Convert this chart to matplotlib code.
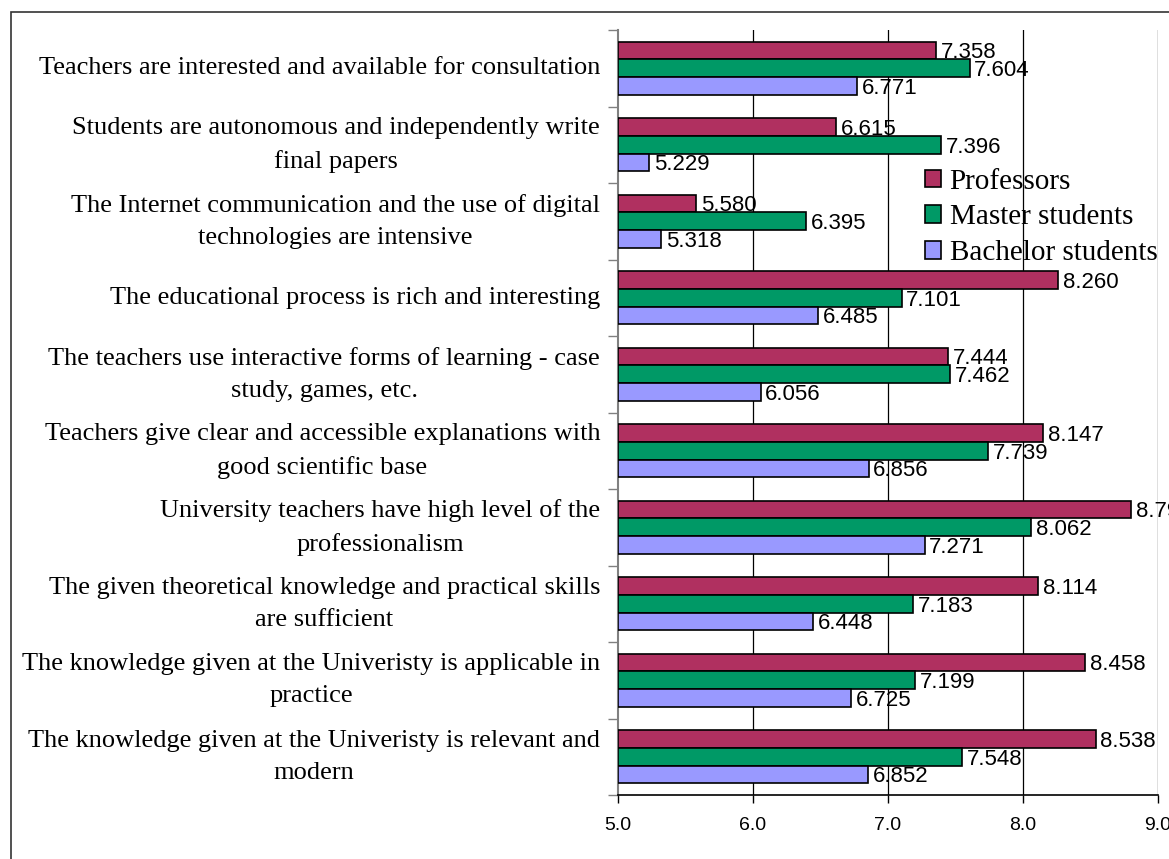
import numpy as np
import matplotlib.pyplot as plt
from matplotlib.patches import Rectangle

categories = [
    "Teachers are interested and available for consultation",
    "Students are autonomous and independently write\nfinal papers",
    "The Internet communication and the use of digital\ntechnologies are intensive",
    "The educational process is rich and interesting",
    "The teachers use interactive forms of learning - case\nstudy, games, etc.",
    "Teachers give clear and accessible explanations with\ngood scientific base",
    "University teachers have high level of the\nprofessionalism",
    "The given theoretical knowledge and practical skills\nare sufficient",
    "The knowledge given at the Univeristy is applicable in\npractice",
    "The knowledge given at the Univeristy is relevant and\nmodern",
]
professors = [7.358, 6.615, 5.580, 8.260, 7.444, 8.147, 8.799, 8.114, 8.458, 8.538]
masters = [7.604, 7.396, 6.395, 7.101, 7.462, 7.739, 8.062, 7.183, 7.199, 7.548]
bachelors = [6.771, 5.229, 5.318, 6.485, 6.056, 6.856, 7.271, 6.448, 6.725, 6.852]
series_names = ["Professors", "Master students", "Bachelor students"]
colors = ["#B03060", "#009966", "#9999FF"]
xticks = [5.0, 6.0, 7.0, 8.0, 9.0]

fig = plt.figure(figsize=(11.69, 8.59), dpi=100)
ax = fig.add_axes([618 / 1169, 1 - 795 / 859, 540 / 1169, 765 / 859])

# рамка вокруг всей картинки
fig.patches.append(Rectangle((11 / 1169, -0.1), 1.2, 1 - 12 / 859 + 0.1,
                             transform=fig.transFigure, fill=False,
                             edgecolor="#333333", linewidth=1.2))

y = np.arange(len(categories))
h = 0.231
handles = []
for k, (vals, col, name) in enumerate(zip([professors, masters, bachelors], colors, series_names)):
    pos = y + (k - 1) * h
    bars = ax.barh(pos, np.array(vals) - 5.0, left=5.0, height=h, color=col,
                   edgecolor="black", linewidth=1.2, label=name, zorder=3)
    handles.append(bars)
    for p, v in zip(pos, vals):
        ax.text(v + 0.035, p + 0.03, f"{v:.3f}", va="center", ha="left",
                fontsize=16, family="Liberation Sans", zorder=4, clip_on=False)

ax.set_xlim(5.0, 9.0)
ax.set_ylim(len(categories) - 0.5, -0.5)
ax.set_xticks(xticks)
ax.set_xticklabels([f"{t:.1f}" for t in xticks], family="Liberation Sans")
ax.tick_params(axis="x", direction="out", length=6, width=1, color="black",
               pad=10, labelsize=14)

ax.set_yticks(np.arange(len(categories) + 1) - 0.5)
ax.set_yticklabels([])
ax.tick_params(axis="y", direction="out", length=7, width=1, color="#808080")
for i, c in enumerate(categories):
    ax.text(-0.033, i, c, transform=ax.get_yaxis_transform(), ha="right", va="center",
            multialignment="center", family="Liberation Serif", fontsize=19,
            linespacing=1.6)

for t in xticks[1:]:
    ax.axvline(t, color="black", linewidth=0.9, zorder=1)

ax.spines["top"].set_visible(False)
ax.spines["right"].set_visible(False)
ax.spines["left"].set_color("#808080")
ax.spines["left"].set_linewidth(1.5)
ax.spines["bottom"].set_color("black")
ax.spines["bottom"].set_linewidth(1.2)

leg = ax.legend(handles=handles, loc="upper left", bbox_to_anchor=(919 / 1169, 1 - 163 / 859),
                bbox_transform=fig.transFigure, frameon=False,
                prop={"family": "Liberation Serif", "size": 21},
                handlelength=0.55, handleheight=0.55, handletextpad=0.3, labelspacing=0.33,
                borderaxespad=0, borderpad=0.2)

fig.savefig("out.png", dpi=100)
